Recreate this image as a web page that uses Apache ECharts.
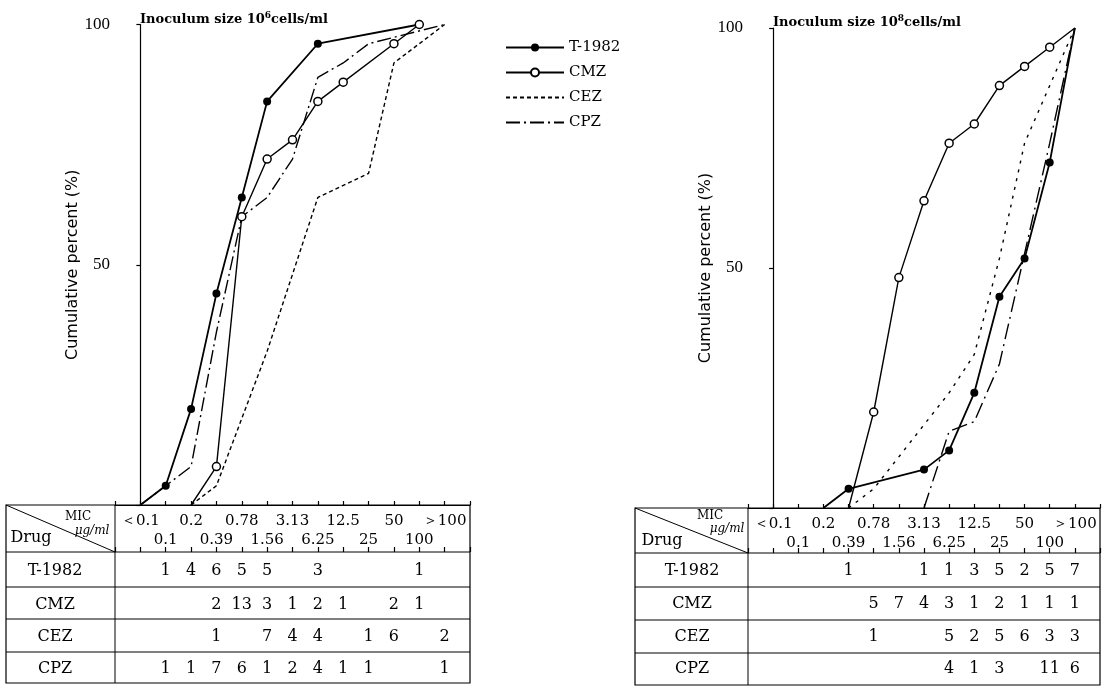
<!DOCTYPE html>
<html><head><meta charset="utf-8">
<script src="https://cdn.jsdelivr.net/npm/echarts@6/dist/echarts.min.js"></script>
<style>html,body{margin:0;padding:0;background:#fff}#c{width:1109px;height:687px}</style>
</head><body><div id="c"></div>
<script>
// MIC categories (µg/ml)
const mics = ['＜0.1','0.1','0.2','0.39','0.78','1.56','3.13','6.25','12.5','25','50','100','＞100'];
const drugs = ['T-1982','CMZ','CEZ','CPZ'];

// Number of strains per MIC, inoculum 10^6 cells/ml
const countsL_T1982 = [null,1,4,6,5,5,null,3,null,null,null,1,null];
const countsL_CMZ   = [null,null,null,2,13,3,1,2,1,null,2,1,null];
const countsL_CEZ   = [null,null,null,1,null,7,4,4,null,1,6,null,2];
const countsL_CPZ   = [null,1,1,7,6,1,2,4,1,1,null,null,1];
// Number of strains per MIC, inoculum 10^8 cells/ml
const countsR_T1982 = [null,null,null,1,null,null,1,1,3,5,2,5,7];
const countsR_CMZ   = [null,null,null,null,5,7,4,3,1,2,1,1,1];
const countsR_CEZ   = [null,null,null,null,1,null,null,5,2,5,6,3,3];
const countsR_CPZ   = [null,null,null,null,null,null,null,4,1,3,null,11,6];

// Cumulative percent (%), 10^6 cells/ml
const cumL_T1982 = [0,4,20,44,64,84,null,96,null,null,null,100,null];
const cumL_CMZ   = [null,null,0,8,60,72,76,84,88,null,96,100,null];
const cumL_CEZ   = [null,null,0,4,null,32,48,64,null,69,92,null,100];
const cumL_CPZ   = [0,4,8,36,60,64,72,89,92,96,null,null,100];
// Cumulative percent (%), 10^8 cells/ml
const cumR_T1982 = [null,null,0,4,null,null,8,12,24,44,52,72,100];
const cumR_CMZ   = [null,null,null,0,20,48,64,76,80,88,92,96,100];
const cumR_CEZ   = [null,null,null,0,4,null,null,24,32,52,76,88,100];
const cumR_CPZ   = [null,null,null,null,null,null,0,16,18,30,null,76,100];

const yTicks = [50, 100];

const SERIF = "'DejaVu Serif', 'Liberation Serif', serif";
const chart = echarts.init(document.getElementById('c'), null, {renderer:'canvas'});

function pts(arr, right) {
  const out = [];
  arr.forEach((v, i) => {
    if (v == null) return;
    const item = {value: [i, v]};
    if (v === 0 || (right && i === 12)) item.symbol = 'none';
    out.push(item);
  });
  return out;
}

function xAxes(gridIndex, off) {
  const common = {type:'value', gridIndex, min:-1, max:13, interval:1, splitLine:{show:false}};
  return [
    Object.assign({}, common, {
      position:'bottom',
      axisLine:{show:true, lineStyle:{color:'#000', width:1.2}},
      axisTick:{show:true, inside:true, length:4, lineStyle:{color:'#000', width:1.2}},
      axisLabel:{
        show:true, margin:7, color:'#000', fontFamily:SERIF, fontSize:15, lineHeight:19,
        formatter: v => { const i = Math.round(v); if (i < 0 || i > 12) return ''; return i % 2 === 0 ? mics[i] + '\n ' : ' \n' + mics[i]; }
      }
    }),
    Object.assign({}, common, {
      position:'bottom', offset: off,
      axisLine:{show:false},
      axisTick:{show:true, inside:true, length:5, lineStyle:{color:'#000', width:1.2}},
      axisLabel:{show:false}
    })
  ];
}

function yAxis(gridIndex, gap) {
  return {
    type:'value', gridIndex, min:0, max:100, interval:50,
    name:'Cumulative percent (%)', nameLocation:'middle', nameGap:gap, nameRotate:90,
    nameTextStyle:{fontFamily:"'DejaVu Sans', sans-serif", fontSize:16, color:'#000'},
    axisLine:{show:true, lineStyle:{color:'#000', width:1.2}},
    axisTick:{show:true, length:4, lineStyle:{color:'#000', width:1.2}},
    axisLabel:{color:'#000', fontFamily:"'Liberation Serif', serif", fontSize:17, margin:5,
      formatter: v => yTicks.indexOf(v) >= 0 ? String(v) : ''},
    splitLine:{show:false}
  };
}

function seriesSet(xi, yi, t, m, e, p, right) {
  return [
    {name:'T-1982', type:'line', xAxisIndex:xi, yAxisIndex:yi, data:pts(t, right),
      symbol:'circle', symbolSize:8, color:'#000',
      lineStyle:{color:'#000', width:1.8}, itemStyle:{color:'#000'}},
    {name:'CMZ', type:'line', xAxisIndex:xi, yAxisIndex:yi, data:pts(m, right),
      symbol:'circle', symbolSize:8, color:'#000',
      lineStyle:{color:'#000', width:1.4}, itemStyle:{color:'#fff', borderColor:'#000', borderWidth:1.5}},
    {name:'CEZ', type:'line', xAxisIndex:xi, yAxisIndex:yi, data:pts(e, right),
      symbol:'none', color:'#000',
      lineStyle:{color:'#000', width:1.4, type: right ? [3,6] : [4,3]}},
    {name:'CPZ', type:'line', xAxisIndex:xi, yAxisIndex:yi, data:pts(p, right),
      symbol:'none', color:'#000',
      lineStyle:{color:'#000', width:1.4, type: right ? [16,5,2,5] : [14,4,2,4]}}
  ];
}

const titleStyle = {color:'#000', fontFamily:SERIF, fontSize:13, fontWeight:'bold',
  rich:{s:{fontFamily:SERIF, fontSize:9, fontWeight:'bold', padding:[0,0,8,0]}}};

const noSym = {color:'rgba(0,0,0,0)', borderWidth:0, opacity:0};

const option = {
  animation:false,
  backgroundColor:'#fff',
  title:[
    {text:'Inoculum size 10{s|6}cells/ml', left:135, top:6, textStyle:titleStyle},
    {text:'Inoculum size 10{s|8}cells/ml', left:768, top:9, textStyle:titleStyle}
  ],
  legend:{
    orient:'vertical', left:500, top:35, itemWidth:58, itemHeight:10, itemGap:10,
    data:[
      {name:'T-1982'},
      {name:'CMZ'},
      {name:'CEZ', itemStyle:noSym},
      {name:'CPZ', itemStyle:noSym}
    ],
    selectedMode:false,
    textStyle:{color:'#000', fontFamily:SERIF, fontSize:15}
  },
  grid:[
    {left:115, top:24.5, width:355, height:480.5},
    {left:748, top:28, width:352, height:480}
  ],
  xAxis:[].concat(xAxes(0, 47), xAxes(1, 45)),
  yAxis:[yAxis(0, 30), yAxis(1, 34)],
  series:[].concat(
    seriesSet(0, 0, cumL_T1982, cumL_CMZ, cumL_CEZ, cumL_CPZ, false),
    seriesSet(2, 1, cumR_T1982, cumR_CMZ, cumR_CEZ, cumR_CPZ, true)
  )
};
chart.setOption(option);

// ---- tables under the two charts ----
function table(xAxisIndex, box, rows, counts, textYs, hdr) {
  const g = [];
  const L = (x1,y1,x2,y2) => g.push({type:'line', silent:true, shape:{x1,y1,x2,y2}, style:{stroke:'#000', lineWidth:1}});
  g.push({type:'rect', silent:true, shape:{x:box.x0, y:box.top, width:box.x1-box.x0, height:rows[rows.length-1]-box.top}, style:{fill:null, stroke:'#000', lineWidth:1.2}});
  rows.slice(0, -1).forEach(y => L(box.x0, y, box.x1, y));
  L(box.div, box.top, box.div, rows[rows.length-1]);
  L(box.x0, box.top, box.div, rows[0]);
  const T = (x, y, text, size, extra) => g.push({type:'text', silent:true, x, y,
    style:Object.assign({text, fill:'#000', fontFamily:SERIF, fontSize:size, align:'center', verticalAlign:'middle'}, extra||{})});
  T(hdr.micX, hdr.micY, 'MIC', 12);
  T(hdr.ugX, hdr.ugY, 'μg/ml', 12, {fontStyle:'italic'});
  T(hdr.drugX, hdr.drugY, 'Drug', 16);
  drugs.forEach((d, r) => {
    T(box.nameX, textYs[r], d, 16);
    counts[r].forEach((c, i) => {
      if (c == null) return;
      const x = chart.convertToPixel({xAxisIndex}, i);
      T(x, textYs[r], String(c), 16);
    });
  });
  return g;
}

const graphics = [].concat(
  table(0, {x0:6, x1:470, top:505, div:115, nameX:55},
    [552, 587, 619, 652, 683],
    [countsL_T1982, countsL_CMZ, countsL_CEZ, countsL_CPZ],
    [571, 605, 637, 669],
    {micX:78, micY:517, ugX:92, ugY:531, drugX:31, drugY:538}),
  table(2, {x0:635, x1:1100, top:508, div:748, nameX:692},
    [553, 587, 620, 653, 685],
    [countsR_T1982, countsR_CMZ, countsR_CEZ, countsR_CPZ],
    [571, 604, 637, 669],
    {micX:710, micY:516, ugX:727, ugY:529, drugX:662, drugY:541})
);
chart.setOption({graphic: graphics});
</script>
</body></html>
